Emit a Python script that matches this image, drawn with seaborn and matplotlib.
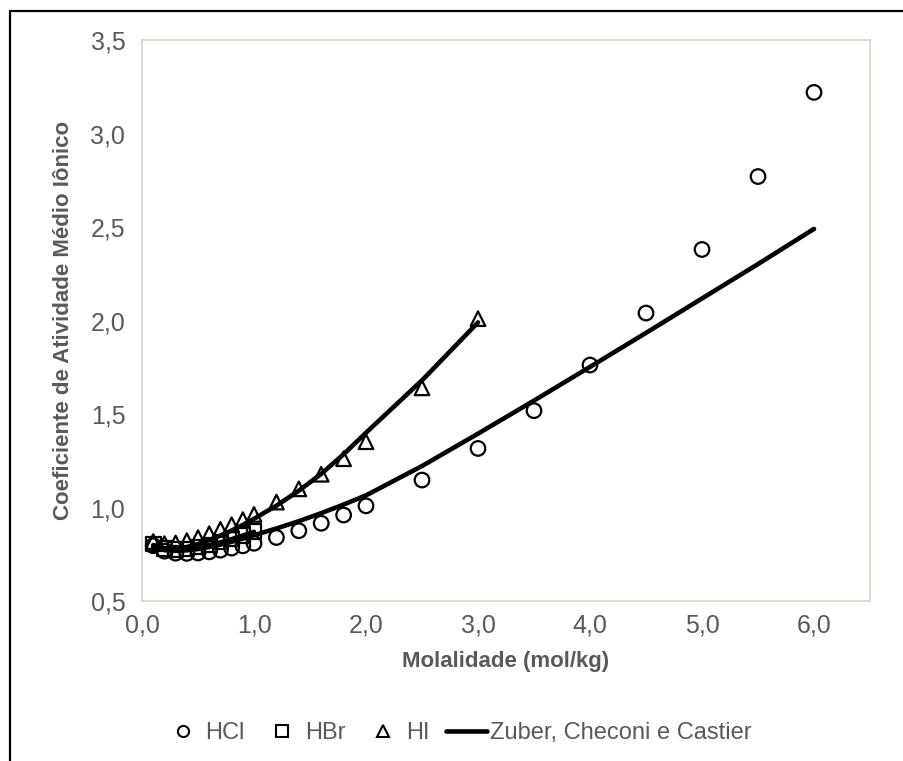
# Coeficiente de atividade médio iônico de HCl, HBr e HI vs molalidade,
# dados experimentais e modelo de Zuber, Checoni e Castier.

import seaborn as sns
import matplotlib.pyplot as plt
from matplotlib.ticker import FuncFormatter
from matplotlib.lines import Line2D

# Dados experimentais
m_hcl = [0.1, 0.2, 0.3, 0.4, 0.5, 0.6, 0.7, 0.8, 0.9, 1.0, 1.2, 1.4, 1.6, 1.8,
         2.0, 2.5, 3.0, 3.5, 4.0, 4.5, 5.0, 5.5, 6.0]
g_hcl = [0.796, 0.767, 0.756, 0.755, 0.757, 0.763, 0.772, 0.783, 0.795, 0.809,
         0.840, 0.876, 0.916, 0.960, 1.009, 1.147, 1.316, 1.518, 1.762, 2.040,
         2.380, 2.770, 3.220]

m_hbr = [0.1, 0.2, 0.3, 0.4, 0.5, 0.6, 0.7, 0.8, 0.9, 1.0]
g_hbr = [0.805, 0.782, 0.777, 0.778, 0.789, 0.800, 0.815, 0.832, 0.850, 0.871]

m_hi = [0.1, 0.2, 0.3, 0.4, 0.5, 0.6, 0.7, 0.8, 0.9, 1.0, 1.2, 1.4, 1.6, 1.8,
        2.0, 2.5, 3.0]
g_hi = [0.818, 0.807, 0.811, 0.823, 0.839, 0.860, 0.883, 0.908, 0.935, 0.963,
        1.029, 1.100, 1.178, 1.261, 1.352, 1.640, 2.010]

# Modelo (Zuber, Checoni e Castier)
mod_hcl = [0.790, 0.772, 0.768, 0.771, 0.778, 0.789, 0.802, 0.817, 0.834, 0.852,
           0.888, 0.927, 0.970, 1.016, 1.065, 1.222, 1.395, 1.572, 1.752, 1.934,
           2.118, 2.302, 2.490]
mod_hbr = [0.795, 0.777, 0.774, 0.778, 0.787, 0.799, 0.814, 0.831, 0.850, 0.870]
mod_hi = [0.800, 0.783, 0.781, 0.789, 0.805, 0.826, 0.850, 0.877, 0.907, 0.940,
          1.010, 1.090, 1.180, 1.285, 1.400, 1.680, 1.990]

cinza = "#595959"

sns.set_theme(style="white")
plt.rcParams["font.family"] = ["Liberation Sans", "DejaVu Sans"]

fig = plt.figure(figsize=(9.04, 7.61), dpi=100)
ax = fig.add_axes([0.1571, 0.2102, 0.8053, 0.7372])

kw = dict(color="none", edgecolor="black", linewidth=1.6, s=110, zorder=3)
sns.scatterplot(x=m_hcl, y=g_hcl, marker="o", ax=ax, **kw)
sns.scatterplot(x=m_hbr, y=g_hbr, marker="s", ax=ax, **kw)
sns.scatterplot(x=m_hi, y=g_hi, marker="^", ax=ax, **kw)

for xs, ys in [(m_hcl, mod_hcl), (m_hbr, mod_hbr), (m_hi, mod_hi)]:
    sns.lineplot(x=xs, y=ys, color="black", linewidth=3.3, ax=ax, zorder=4,
                 estimator=None, sort=False)

ax.set_xlim(0, 6.5)
ax.set_ylim(0.5, 3.5)
ax.set_xticks([0, 1, 2, 3, 4, 5, 6])
ax.set_yticks([0.5, 1.0, 1.5, 2.0, 2.5, 3.0, 3.5])
virgula = FuncFormatter(lambda v, p: f"{v:.1f}".replace(".", ","))
ax.xaxis.set_major_formatter(virgula)
ax.yaxis.set_major_formatter(virgula)
ax.tick_params(labelsize=18, colors=cinza, length=0)
ax.tick_params(axis="y", pad=12)
ax.tick_params(axis="x", pad=9)
for s in ax.spines.values():
    s.set_color("#d8d5c5")
    s.set_linewidth(1.2)

ax.set_xlabel("Molalidade (mol/kg)", fontsize=16, fontweight="bold",
              color=cinza, labelpad=10)
ax.set_ylabel("Coeficiente de Atividade Médio Iônico", fontsize=16,
              fontweight="bold", color=cinza, labelpad=12)

handles = [
    Line2D([], [], marker="o", linestyle="none", markerfacecolor="none",
           markeredgecolor="black", markersize=8, markeredgewidth=1.5),
    Line2D([], [], marker="s", linestyle="none", markerfacecolor="none",
           markeredgecolor="black", markersize=8, markeredgewidth=1.5),
    Line2D([], [], marker="^", linestyle="none", markerfacecolor="none",
           markeredgecolor="black", markersize=8, markeredgewidth=1.5),
    Line2D([], [], color="black", linewidth=3.3),
]
fig.legend(handles, ["HCl", "HBr", "HI", "Zuber, Checoni e Castier"],
           loc="center", bbox_to_anchor=(0.505, 0.037), ncol=4, frameon=False,
           fontsize=17, labelcolor=cinza, handlelength=1.75, handletextpad=0.1,
           columnspacing=0.7)

# borda externa (topo e esquerda)
fig.add_artist(Line2D([9.5 / 904, 9.5 / 904], [0, 1 - 10.5 / 761],
                      color="black", linewidth=1.6))
fig.add_artist(Line2D([9.5 / 904, 1], [1 - 10.5 / 761, 1 - 10.5 / 761],
                      color="black", linewidth=1.6))

fig.savefig("out.png", dpi=100)
